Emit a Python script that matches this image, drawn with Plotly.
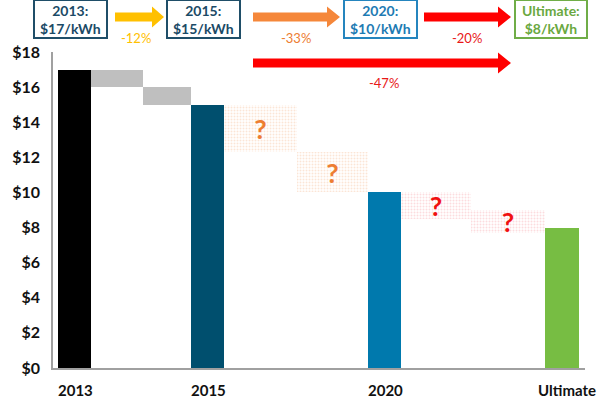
import plotly.graph_objects as go

# ---------------- data ----------------
milestone_labels = ["2013", "2015", "2020", "Ultimate"]
milestone_costs = [17, 15, 10, 8]

known_step_tops = [17, 16]
known_step_bottoms = [16, 15]

unknown_step_tops = [15, 12.3, 10, 9.0]
unknown_step_bottoms = [12.3, 10, 8.5, 7.7]

header_titles = ["2013:", "2015:", "2020:", "Ultimate:"]
header_values = ["$17/kWh", "$15/kWh", "$10/kWh", "$8/kWh"]
change_labels = ["-12%", "-33%", "-20%", "-47%"]

y_tick_values = [0, 2, 4, 6, 8, 10, 12, 14, 16, 18]
y_tick_labels = ["$" + str(v) for v in y_tick_values]

# ---------------- layout / style ----------------
W, H = 600, 403
PL, PR, PT, PB = 53, 585, 52, 368
FONT = "Lato"

milestone_spans = [(58, 91), (191, 224), (368, 401), (545, 579)]
milestone_colors = ["#000000", "#004F6E", "#0079AD", "#77BD43"]
known_spans = [(91, 143), (143, 191)]
unknown_spans = [(224, 297), (297, 368), (401, 471), (471, 545)]
unknown_text_colors = ["#ED7D31", "#ED7D31", "#F01010", "#F01010"]
unknown_dot_colors = ["rgba(240,150,90,0.5)", "rgba(240,150,90,0.5)",
                      "rgba(240,80,90,0.4)", "rgba(240,80,90,0.4)"]

header_boxes = [(34, 107), (167, 240), (344, 417), (515, 587)]
header_colors = ["#1F4E68", "#1F4E68", "#2585BE", "#70AD47"]
header_text_colors = ["#1B4A66", "#1B4A66", "#1E7BB3", "#6AA840"]


def px(x):
    return (x - PL) / (PR - PL)


def py(y):
    return (PB - y) / (PB - PT)


fig = go.Figure()

# milestone bars
fig.add_trace(go.Bar(
    x=[(a + b) / 2 for a, b in milestone_spans],
    width=[b - a for a, b in milestone_spans],
    y=milestone_costs,
    marker=dict(color=milestone_colors, line=dict(width=0)),
    hoverinfo="skip", showlegend=False,
))

# known (grey) steps
fig.add_trace(go.Bar(
    x=[(a + b) / 2 for a, b in known_spans],
    width=[b - a for a, b in known_spans],
    y=[t - b for t, b in zip(known_step_tops, known_step_bottoms)],
    base=known_step_bottoms,
    marker=dict(color="#BFBFBF", line=dict(width=0)),
    hoverinfo="skip", showlegend=False,
))

# unknown (dotted) steps
fig.add_trace(go.Bar(
    x=[(a + b) / 2 for a, b in unknown_spans],
    width=[b - a for a, b in unknown_spans],
    y=[t - b for t, b in zip(unknown_step_tops, unknown_step_bottoms)],
    base=unknown_step_bottoms,
    marker=dict(color="white", line=dict(width=0),
                pattern=dict(shape=".", fgcolor=unknown_dot_colors, bgcolor="white",
                             size=3, solidity=0.35)),
    text=["?"] * len(unknown_spans),
    textposition="inside",
    insidetextanchor="middle",
    constraintext="none",
    textangle=0,
    textfont=dict(family=FONT, size=27, color=unknown_text_colors, weight="bold"),
    hoverinfo="skip", showlegend=False,
))

shapes = []
annotations = []

# header boxes and texts
for (a, b), c, tc, t1, t2 in zip(header_boxes, header_colors, header_text_colors,
                                  header_titles, header_values):
    shapes.append(dict(type="rect", xref="paper", yref="paper",
                       x0=px(a), x1=px(b), y0=py(38), y1=py(0),
                       line=dict(color=c, width=2), fillcolor="white"))
    annotations.append(dict(xref="paper", yref="paper", x=px((a + b) / 2), y=py(20),
                            text="<b>" + t1 + "<br>" + t2 + "</b>", showarrow=False,
                            font=dict(family=FONT, size=14, color=tc),
                            xanchor="center", yanchor="middle"))


def arrow(xs, xh, xe, yc, t, h, color):
    pts = [(xs, yc - t), (xh, yc - t), (xh, yc - h), (xe, yc), (xh, yc + h),
           (xh, yc + t), (xs, yc + t)]
    path = "M " + " L ".join(f"{px(x):.5f},{py(y):.5f}" for x, y in pts) + " Z"
    shapes.append(dict(type="path", xref="paper", yref="paper", path=path,
                       fillcolor=color, line=dict(width=0)))


arrow(115, 152, 164, 17, 4.5, 10.5, "#FFC000")
arrow(253, 327, 340, 17, 4.5, 10.5, "#F5873A")
arrow(424, 498, 511, 17, 4.5, 10.5, "#FF0000")
arrow(253, 498, 511, 63, 4.5, 10.5, "#FF0000")

change_pos = [(136, 38), (296, 38), (467, 38), (384, 83)]
change_colors = ["#FFC000", "#ED7D31", "#E81818", "#E81818"]
for lab, (x, y), c in zip(change_labels, change_pos, change_colors):
    annotations.append(dict(xref="paper", yref="paper", x=px(x), y=py(y), text=lab,
                            showarrow=False, font=dict(family=FONT, size=13, color=c),
                            xanchor="center", yanchor="middle"))

# category labels under the axis
label_x = [75, 208, 385, 567]
for lab, x in zip(milestone_labels, label_x):
    annotations.append(dict(xref="paper", yref="paper", x=px(x), y=py(390),
                            text="<b>" + lab + "</b>", showarrow=False,
                            font=dict(family=FONT, size=15, color="#111111"),
                            xanchor="center", yanchor="middle"))

fig.update_layout(
    width=W, height=H,
    margin=dict(l=PL, r=W - PR, t=PT, b=H - PB, pad=0),
    plot_bgcolor="white", paper_bgcolor="white",
    barmode="overlay", bargap=0,
    shapes=shapes, annotations=annotations,
    showlegend=False,
    xaxis=dict(range=[PL, PR], showticklabels=False, ticks="", showgrid=False,
               zeroline=False, showline=True, linecolor="#A0A0A0", linewidth=1.5,
               fixedrange=True),
    yaxis=dict(range=[0, 18], tickvals=y_tick_values,
               ticktext=["<b>" + t + "</b>" for t in y_tick_labels],
               showgrid=False, zeroline=False, showline=True, linecolor="#A0A0A0",
               linewidth=1.5, ticks="", ticklen=0, fixedrange=True,
               ticklabelstandoff=8,
               tickfont=dict(family=FONT, size=16, color="#111111")),
)

fig.write_html("out.html", config={"displayModeBar": False},
               post_script="document.body.style.margin='0px';"
                           "document.body.style.overflow='hidden';")
